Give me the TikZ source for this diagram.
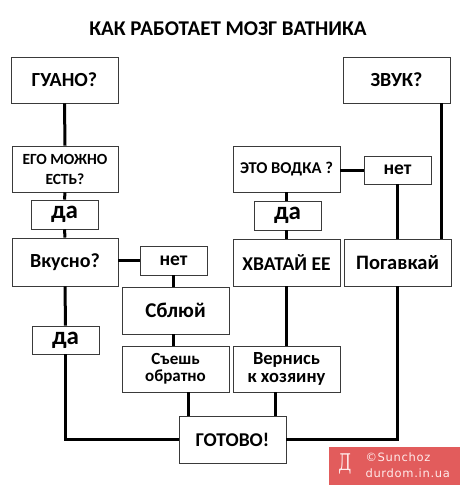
\documentclass[tikz,border=0pt]{standalone}
\usepackage{fontspec}
\setmainfont{Carlito}
\newfontfamily\wmfont[LetterSpace=6]{DejaVu Sans}
\newfontfamily\wmlogo{DejaVu Serif}
\usetikzlibrary{calc}
\definecolor{wmred}{HTML}{E25C5C}
\definecolor{boxline}{HTML}{3A3A3A}
\tikzset{
  box/.style={draw=boxline, line width=0.9pt, fill=white, inner sep=0pt, align=center},
  conn/.style={line width=3pt, black},
  fs/.style={font=\bfseries\fontsize{#1}{#1}\selectfont},
  fs2/.style={font=\bfseries\fontsize{#1}{16.5}\selectfont}
}
\begin{document}
\begin{tikzpicture}[x=1pt,y=-1pt]
\useasboundingbox (0,0) rectangle (460,485);
\fill[white] (0,0) rectangle (460,485);
\node[box, minimum width=107pt, minimum height=46pt, fs=20] (guano) at (64.5,80) {ГУАНО?};
\node[box, minimum width=107pt, minimum height=46pt, fs=20] (zvuk) at (396.5,80) {ЗВУК?};
\node[box, minimum width=106pt, minimum height=46pt, font=\bfseries\fontsize{15.5}{20}\selectfont] (ego) at (65,169) {ЕГО МОЖНО\\ЕСТЬ?};
\node[box, minimum width=67pt, minimum height=29pt, fs=25] (da1) at (64.5,214.5) {да};
\node[box, minimum width=106pt, minimum height=48pt, fs=20] (vkusno) at (65,262) {Вкусно?};
\node[box, minimum width=67pt, minimum height=29pt, fs=19.5] (net1) at (173.5,260.5) {нет};
\node[box, minimum width=107pt, minimum height=47pt, fs=21] (sbluy) at (175.5,310.5) {Сблюй};
\node[box, minimum width=67pt, minimum height=28pt, fs=25] (da2) at (65.5,340) {да};
\node[box, minimum width=107pt, minimum height=46pt, fs2=17] (sesh) at (175.5,369) {Съешь\\обратно};
\node[box, minimum width=107pt, minimum height=46pt, font=\bfseries\fontsize{18.5}{18.5}\selectfont] (vernis) at (286.5,369) {Вернись\\к хозяину};
\node[box, minimum width=107pt, minimum height=47pt, fs=19.5] (gotovo) at (232.5,439.5) {ГОТОВО!};
\node[box, minimum width=107pt, minimum height=46pt, fs=16.5] (vodka) at (286.5,169) {ЭТО ВОДКА ?};
\node[box, minimum width=67pt, minimum height=28pt, fs=19.5] (net2) at (397.5,170) {нет};
\node[box, minimum width=67pt, minimum height=29pt, fs=25] (da3) at (287.5,215.5) {да};
\node[box, minimum width=107pt, minimum height=47pt, fs=19.5] (hvatay) at (286.5,262.5) {ХВАТАЙ ЕЕ};
\node[box, minimum width=107pt, minimum height=47pt, fs=20.5] (pogavkay) at (397.5,262.5) {Погавкай};
\node[fs=21] (title) at (228,29) {КАК РАБОТАЕТ МОЗГ ВАТНИКА};
% connectors
\draw[conn] (guano.south) -- (ego.north);
\draw[conn] (ego.south) -- (da1.north);
\draw[conn] (da1.south) -- (vkusno.north);
\draw[conn] (vkusno.south) -- (da2.north);
\draw[conn] (da2.south) |- (gotovo.west);
\draw[conn] (vkusno.east |- net1) -- (net1.west);
\draw[conn] (net1.south) -- (net1.south |- sbluy.north);
\draw[conn] (sbluy.south -| net1) -- (sesh.north -| net1);
\draw[conn] ([xshift=10pt]gotovo.north west) -- ([xshift=10pt]gotovo.north west |- sesh.south);
\draw[conn] ([xshift=-11pt]gotovo.north east) -- ([xshift=-11pt]gotovo.north east |- vernis.south);
\draw[conn] (vodka.south) -- (da3.north -| vodka);
\draw[conn] (da3.south -| vodka) -- (hvatay.north -| vodka);
\draw[conn] (hvatay.south) -- (hvatay.south |- vernis.north);
\draw[conn] (vodka.east |- net2) -- (net2.west);
\draw[conn] (net2.south) -- (net2.south |- pogavkay.north);
\draw[conn] ([xshift=-9pt]zvuk.south east) -- ([xshift=-9pt]zvuk.south east |- pogavkay.north);
\draw[conn] (pogavkay.south) |- (gotovo.east);
% watermark
\fill[wmred] (329,447) rectangle (460,485);
\node[text=white!92!red, font=\wmlogo\fontsize{20}{20}\selectfont, xscale=0.8, yscale=1.15] (wmlogo) at (345,464) {Д};
\node[anchor=west, text=white!92!red, font=\wmfont\fontsize{11.5}{11.5}\selectfont] (wm1) at (362,457.5) {©Sunchoz};
\node[anchor=west, text=white!92!red, font=\wmfont\fontsize{11.5}{11.5}\selectfont] (wm2) at (362,473.5) {durdom.in.ua};
\end{tikzpicture}
\end{document}
